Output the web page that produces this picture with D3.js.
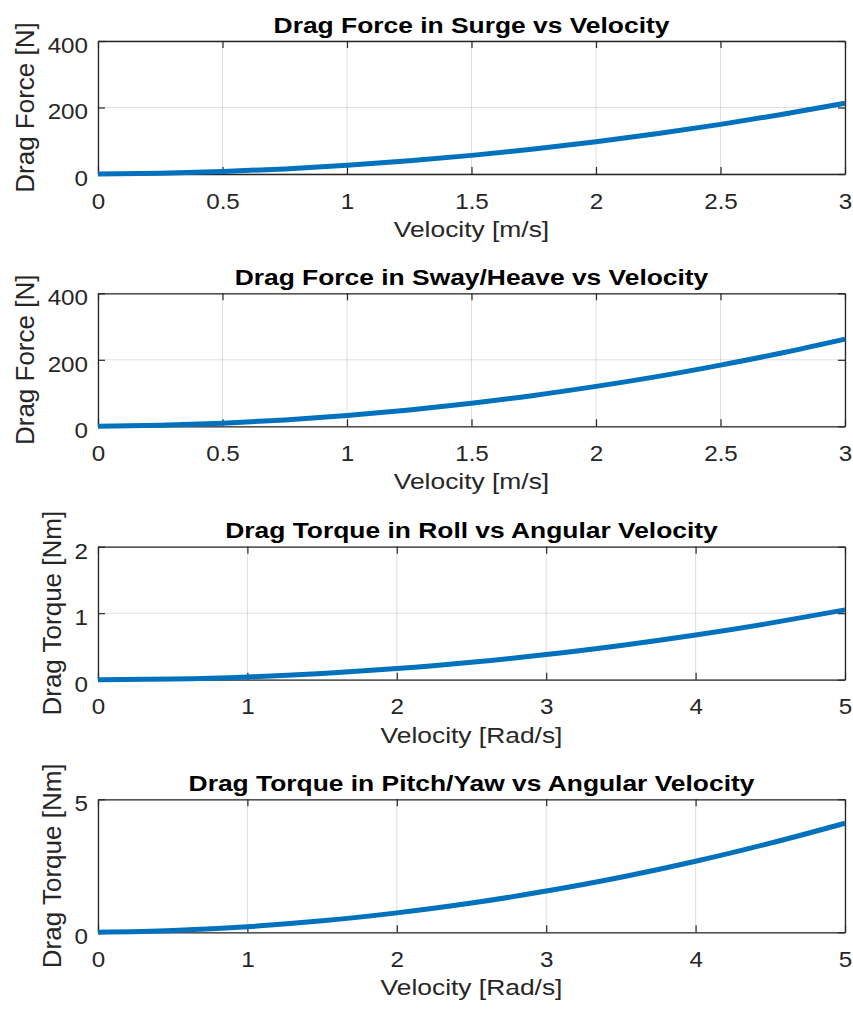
<!DOCTYPE html>
<html>
<head>
<meta charset="utf-8">
<script src="https://cdn.jsdelivr.net/npm/d3@7"></script>
<style>
  html, body { margin: 0; padding: 0; background: #ffffff; }
  svg { display: block; font-family: "Liberation Sans", Arial, Helvetica, sans-serif; }
</style>
</head>
<body>
<svg id="chart" width="853" height="1010"></svg>
<script>
// Linear velocity samples [m/s] and the drag forces [N]
const linVel = [0, 0.25, 0.5, 0.75, 1, 1.25, 1.5, 1.75, 2, 2.25, 2.5, 2.75, 3];
const surgeForce = [0, 2.3, 7.5, 15.4, 26.1, 39.6, 56, 75, 97, 121.7, 149.3, 179.5, 212.7];
const swayHeaveForce = [0, 3, 9.5, 19.3, 32.6, 49.3, 69.4, 92.9, 120, 150.1, 184, 221, 262];

// Angular velocity samples [rad/s] and the drag torques [Nm]
const angVel = [0, 0.5, 1, 1.5, 2, 2.5, 3, 3.5, 4, 4.5, 5];
const rollTorque = [0, 0.011, 0.042, 0.095, 0.168, 0.263, 0.378, 0.515, 0.672, 0.851, 1.05];
const pitchYawTorque = [0, 0.068, 0.21, 0.43, 0.73, 1.1, 1.55, 2.07, 2.67, 3.35, 4.1];

// Tick values and labels
const linVelTicks = [0, 0.5, 1, 1.5, 2, 2.5, 3];
const linVelTickLabels = ["0", "0.5", "1", "1.5", "2", "2.5", "3"];
const angVelTicks = [0, 1, 2, 3, 4, 5];
const angVelTickLabels = ["0", "1", "2", "3", "4", "5"];
const forceTicks = [0, 200, 400];
const rollTicks = [0, 1, 2];
const pitchYawTicks = [0, 5];

// Titles and axis labels
const titles = [
  "Drag Force in Surge vs Velocity",
  "Drag Force in Sway/Heave vs Velocity",
  "Drag Torque in Roll vs Angular Velocity",
  "Drag Torque in Pitch/Yaw vs Angular Velocity"
];
const xLabels = ["Velocity [m/s]", "Velocity [m/s]", "Velocity [Rad/s]", "Velocity [Rad/s]"];
const yLabels = ["Drag Force [N]", "Drag Force [N]", "Drag Torque [Nm]", "Drag Torque [Nm]"];

const panels = [
  { x: linVel, y: surgeForce, xDomain: [0, 3], yDomain: [0, 400], xTicks: linVelTicks, xTickLabels: linVelTickLabels, yTicks: forceTicks },
  { x: linVel, y: swayHeaveForce, xDomain: [0, 3], yDomain: [0, 400], xTicks: linVelTicks, xTickLabels: linVelTickLabels, yTicks: forceTicks },
  { x: angVel, y: rollTorque, xDomain: [0, 5], yDomain: [0, 2], xTicks: angVelTicks, xTickLabels: angVelTickLabels, yTicks: rollTicks },
  { x: angVel, y: pitchYawTorque, xDomain: [0, 5], yDomain: [0, 5], xTicks: angVelTicks, xTickLabels: angVelTickLabels, yTicks: pitchYawTicks }
];

// Layout
const left = 98, right = 845;
const tops = [41, 293.3, 546.7, 799.3];
const plotH = 133;
const axisColor = "#262626";
const lineColor = "#0072BD";
const tickLen = 7;

const svg = d3.select("#chart");

panels.forEach((p, i) => {
  const top = tops[i];
  const bottom = top + plotH;
  const x = d3.scaleLinear().domain(p.xDomain).range([left, right]);
  const y = d3.scaleLinear().domain(p.yDomain).range([bottom, top]);
  const g = svg.append("g");

  // grid
  const grid = g.append("g").attr("stroke", axisColor).attr("stroke-opacity", 0.15).attr("stroke-width", 1);
  p.xTicks.forEach(t => {
    grid.append("line").attr("x1", x(t)).attr("x2", x(t)).attr("y1", top).attr("y2", bottom);
  });
  p.yTicks.forEach(t => {
    grid.append("line").attr("x1", left).attr("x2", right).attr("y1", y(t)).attr("y2", y(t));
  });

  // axes: bottom and left carry labels, top and right only inward ticks
  const fmtX = (d, k) => p.xTickLabels[k];
  const gx = g.append("g").attr("transform", `translate(0,${bottom})`)
    .call(d3.axisBottom(x).tickValues(p.xTicks).tickFormat(fmtX).tickSize(-tickLen).tickSizeOuter(0));
  const gy = g.append("g").attr("transform", `translate(${left},0)`)
    .call(d3.axisLeft(y).tickValues(p.yTicks).tickFormat(d3.format("d")).tickSize(-tickLen).tickSizeOuter(0));
  const gxt = g.append("g").attr("transform", `translate(0,${top})`)
    .call(d3.axisTop(x).tickValues(p.xTicks).tickFormat("").tickSize(-tickLen).tickSizeOuter(0));
  const gyr = g.append("g").attr("transform", `translate(${right},0)`)
    .call(d3.axisRight(y).tickValues(p.yTicks).tickFormat("").tickSize(-tickLen).tickSizeOuter(0));

  [gx, gy, gxt, gyr].forEach(a => {
    a.select(".domain").attr("stroke", axisColor).attr("stroke-width", 1.3);
    a.selectAll(".tick line").attr("stroke", axisColor).attr("stroke-width", 1.2);
  });

  gx.selectAll(".tick text")
    .attr("x", null).attr("y", null).attr("dy", null)
    .attr("transform", "translate(0,34.5) scale(1.1,1)")
    .attr("font-size", 22).attr("fill", axisColor)
    .attr("font-family", "'Liberation Sans', Arial, sans-serif");
  gy.selectAll(".tick text")
    .attr("x", null).attr("y", null).attr("dy", null)
    .attr("transform", "translate(-10,11.3) scale(1.1,1)")
    .attr("font-size", 22).attr("fill", axisColor)
    .attr("font-family", "'Liberation Sans', Arial, sans-serif");

  // curve
  const line = d3.line().x((d, k) => x(p.x[k])).y(d => y(d)).curve(d3.curveMonotoneX);
  g.append("path").datum(p.y)
    .attr("d", line)
    .attr("fill", "none")
    .attr("stroke", lineColor)
    .attr("stroke-width", 5)
    .attr("stroke-linejoin", "round");

  const cx = (left + right) / 2;

  // title
  g.append("text")
    .attr("transform", `translate(${cx},${top - 8.5}) scale(1.2,1)`)
    .attr("text-anchor", "middle")
    .attr("font-size", 22).attr("font-weight", "bold").attr("fill", "#000")
    .text(titles[i]);

  // x label
  g.append("text")
    .attr("transform", `translate(${cx},${bottom + 63}) scale(1.2,1)`)
    .attr("text-anchor", "middle")
    .attr("font-size", 22).attr("fill", axisColor)
    .text(xLabels[i]);

  // y label, placed left of the widest tick label
  const bb = gy.node().getBBox();
  const ylx = left + bb.x - 14;
  g.append("text")
    .attr("transform", `translate(${ylx},${(top + bottom) / 2}) rotate(-90)`)
    .attr("text-anchor", "middle")
    .attr("font-size", 26).attr("fill", axisColor)
    .text(yLabels[i]);
});
</script>
</body>
</html>
